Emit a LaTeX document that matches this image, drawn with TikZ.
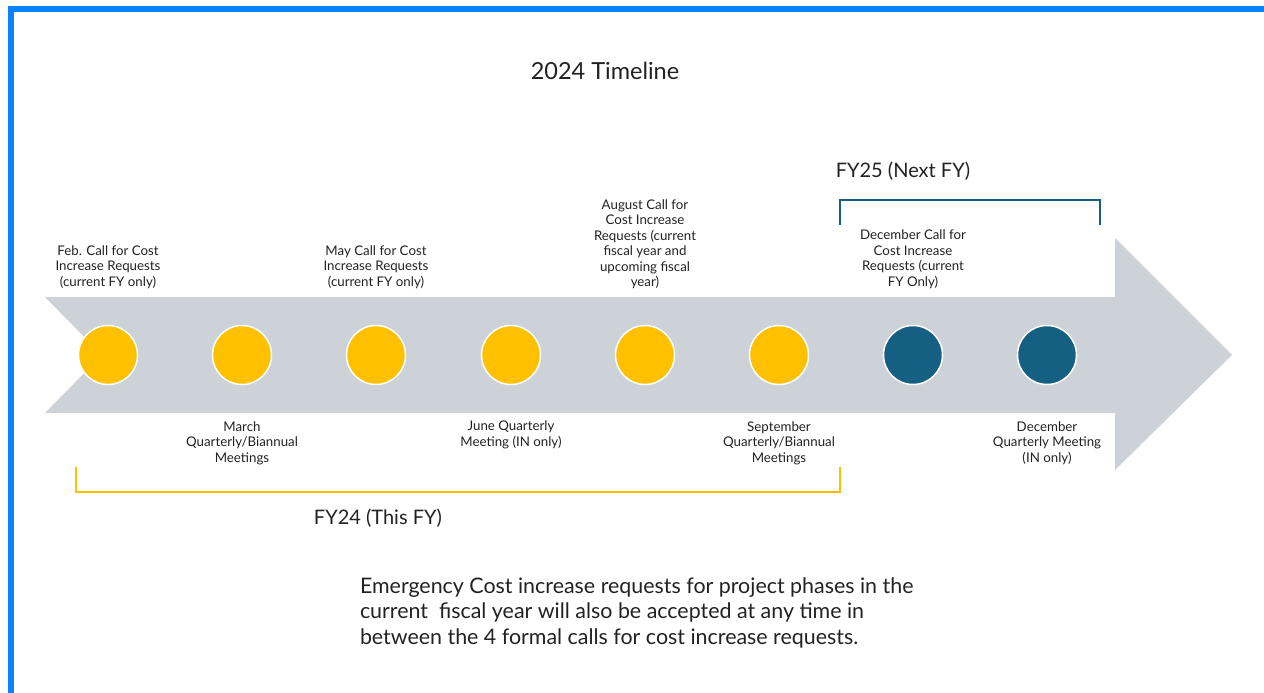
\documentclass[tikz,border=0pt]{standalone}
\usepackage{fontspec}
\setmainfont{Lato}
\definecolor{frameblue}{HTML}{0A82F8}
\definecolor{arrowgray}{HTML}{CDD2D9}
\definecolor{callyellow}{HTML}{FFC000}
\definecolor{nextteal}{HTML}{155F82}
\definecolor{labelink}{HTML}{222222}
\begin{document}
\begin{tikzpicture}[x=1pt,y=-1pt,inner sep=0pt,outer sep=0pt,
    month/.style={circle,draw=white,line width=1.5pt,minimum size=59pt},
    thisfy/.style={month,fill=callyellow},
    nextfy/.style={month,fill=nextteal},
    evlabel/.style={align=center,text=labelink,font=\fontsize{13.3}{15.5}\selectfont},
    bigtext/.style={text=labelink,font=\fontsize{20}{25.5}\selectfont}]
    % 
  \useasboundingbox (0,0) rectangle (1264,693);
  \draw[frameblue,line width=6pt] (11,9) rectangle (1268,700);
  \node[bigtext,font=\fontsize{23.5}{28}\selectfont] (title) at (605,71) {2024 Timeline};
    % arrow
  \fill[arrowgray] (45,297) -- (1115,297) -- (1115,238) -- (1232,355)
    -- (1115,470) -- (1115,413) -- (45,413) -- (102,355) -- cycle;
    % months
  \node[thisfy] (feb) at (108,355) {};
  \node[thisfy] (mar) at (242,355) {};
  \node[thisfy] (may) at (376,355) {};
  \node[thisfy] (jun) at (511,355) {};
  \node[thisfy] (aug) at (645,355) {};
  \node[thisfy] (sep) at (779,355) {};
  \node[nextfy] (dec_call) at (913,355) {};
  \node[nextfy] (dec_meet) at (1047,355) {};
    % labels
  \node[evlabel] (feb_txt) at (108,267) {Feb. Call for Cost\\Increase Requests\\(current FY only)};
  \node[evlabel] (may_txt) at (376,267) {May Call for Cost\\Increase Requests\\(current FY only)};
  \node[evlabel] (aug_txt) at (645,244) {August Call for\\Cost Increase\\Requests (current\\fiscal year and\\upcoming fiscal\\year)};
  \node[evlabel] (dec_call_txt) at (913,259) {December Call for\\Cost Increase\\Requests (current\\FY Only)};
  \node[evlabel] (mar_txt) at (242,443) {March\\Quarterly/Biannual\\Meetings};
  \node[evlabel] (jun_txt) at (511,435) {June Quarterly\\Meeting (IN only)};
  \node[evlabel] (sep_txt) at (779,443) {September\\Quarterly/Biannual\\Meetings};
  \node[evlabel] (dec_meet_txt) at (1047,443) {December\\Quarterly Meeting\\(IN only)};
    % fiscal years
  \coordinate (fy25_l) at (840,225);
  \coordinate (fy25_r) at (1100,225);
  \draw[nextteal,line width=1.5pt] (fy25_l) -- ++(0,-25) -| (fy25_r);
  \node[bigtext] (fy25_txt) at (903,171) {FY25 (Next FY)};
  \coordinate (fy24_l) at (76,467);
  \coordinate (fy24_r) at (840,467);
  \draw[callyellow,line width=1.5pt] (fy24_l) -- ++(0,25) -| (fy24_r);
  \node[bigtext] (fy24_txt) at (378,518) {FY24 (This FY)};
    % note
  \node[bigtext,font=\fontsize{21.4}{25.5}\selectfont,anchor=west,align=left] (note) at (360,612.5)
  {Emergency Cost increase requests for project phases in the\\
  current~ fiscal year will also be accepted at any time in\\
  between the 4 formal calls for cost increase requests.};

\end{tikzpicture}
\end{document}
